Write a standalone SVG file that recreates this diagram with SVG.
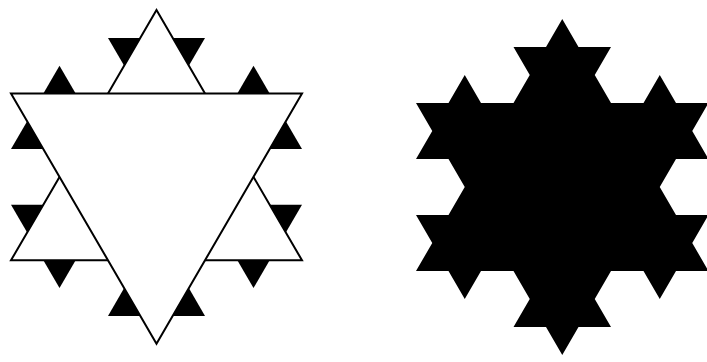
<svg xmlns="http://www.w3.org/2000/svg" width="707" height="362" viewBox="0 0 707 362">
<style>
.ln{fill:none;stroke:#000;stroke-width:2;stroke-linejoin:miter}
.bump{fill:#000;stroke:none}
.solid{fill:#000;stroke:none}
</style>
<rect x="0" y="0" width="707" height="362" fill="#fff"/>
<g id="koch-construction">
<polygon class="ln" points="11,93.5 302,93.5 156.5,343.7"/>
<polyline class="ln" points="108,93.5 156.5,10.1 205,93.5"/>
<polyline class="ln" points="253.5,176.9 302,260.3 205,260.3"/>
<polyline class="ln" points="108,260.3 11,260.3 59.5,176.9"/>
<polygon class="bump" points="43.33,93.5 59.5,65.7 75.67,93.5"/>
<polygon class="bump" points="124.17,65.7 108,37.9 140.33,37.9"/>
<polygon class="bump" points="172.67,37.9 205,37.9 188.83,65.7"/>
<polygon class="bump" points="237.33,93.5 253.5,65.7 269.67,93.5"/>
<polygon class="bump" points="285.83,121.3 302,149.1 269.67,149.1"/>
<polygon class="bump" points="269.67,204.7 302,204.7 285.83,232.5"/>
<polygon class="bump" points="269.67,260.3 253.5,288.1 237.33,260.3"/>
<polygon class="bump" points="188.83,288.1 205,315.9 172.67,315.9"/>
<polygon class="bump" points="140.33,315.9 108,315.9 124.17,288.1"/>
<polygon class="bump" points="75.67,260.3 59.5,288.1 43.33,260.3"/>
<polygon class="bump" points="27.17,232.5 11,204.7 43.33,204.7"/>
<polygon class="bump" points="43.33,149.1 11,149.1 27.17,121.3"/>
</g>
<g id="koch-snowflake">
<polygon class="solid" points="416,103 448.5,103 464.75,75 481,103 513.5,103 529.75,75 513.5,47 546,47 562.25,19 578.5,47 611,47 594.75,75 611,103 643.5,103 659.75,75 676,103 708.5,103 692.25,131 708.5,159 676,159 659.75,187 676,215 708.5,215 692.25,243 708.5,271 676,271 659.75,299 643.5,271 611,271 594.75,299 611,327 578.5,327 562.25,355 546,327 513.5,327 529.75,299 513.5,271 481,271 464.75,299 448.5,271 416,271 432.25,243 416,215 448.5,215 464.75,187 448.5,159 416,159 432.25,131"/>
</g>
</svg>
